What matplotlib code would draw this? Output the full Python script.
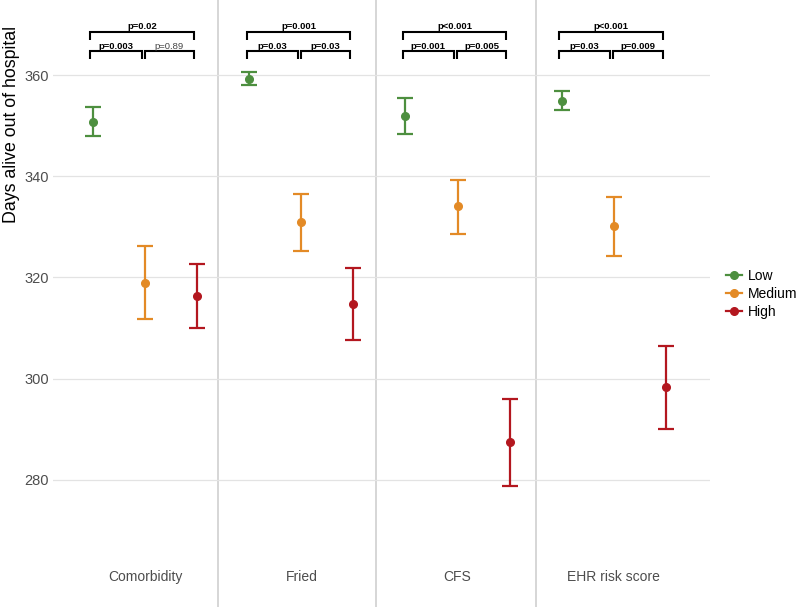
import matplotlib
matplotlib.use("Agg")
import matplotlib.pyplot as plt
from matplotlib.lines import Line2D
import matplotlib.transforms as mtransforms

plt.rcParams['font.family'] = ['Liberation Sans', 'DejaVu Sans']

measures = ['Comorbidity', 'Fried', 'CFS', 'EHR risk score']
levels = ['Low', 'Medium', 'High']
colors = ['#4d8f3f', '#e38a26', '#b3171f']

means = [[350.7, 319.0, 316.3],
         [359.2, 330.9, 314.7],
         [352.0, 334.1, 287.4],
         [354.9, 330.2, 298.3]]
lower = [[347.9, 311.7, 310.0],
         [358.0, 325.2, 307.6],
         [348.4, 328.7, 278.8],
         [353.1, 324.3, 290.0]]
upper = [[353.7, 326.2, 322.7],
         [360.6, 336.6, 321.8],
         [355.5, 339.3, 295.9],
         [356.8, 336.0, 306.4]]

p_overall = ['p=0.02', 'p=0.001', 'p<0.001', 'p<0.001']
p_low_med = ['p=0.003', 'p=0.03', 'p=0.001', 'p=0.03']
p_med_high = ['p=0.89', 'p=0.03', 'p=0.005', 'p=0.009']
p_sig_med_high = [False, True, True, True]

yticks = [280, 300, 320, 340, 360]

fig = plt.figure(figsize=(8, 6.07), dpi=100)
ax = fig.add_axes([53 / 800, 0, (710 - 53) / 800, 1])
ax.set_xlim(-0.77, 11.85)
ax.set_ylim(254.8, 374.9)

for s in ax.spines.values():
    s.set_visible(False)
ax.set_yticks(yticks)
ax.set_xticks([])
ax.tick_params(axis='y', length=0, pad=3, labelsize=10.5, labelcolor='#4d4d4d')
ax.yaxis.grid(True, color='#e3e3e3', lw=0.9)
ax.set_axisbelow(True)

# panel separators
for xs in [2.4, 5.44, 8.5]:
    ax.axvline(xs, color='#cbcbcb', lw=1.1, zorder=0)

trans = mtransforms.blended_transform_factory(ax.transData, ax.transAxes)

for i, m in enumerate(measures):
    x0 = 3 * i
    for j, lev in enumerate(levels):
        x = x0 + j
        mu = means[i][j]
        ax.errorbar([x], [mu], yerr=[[mu - lower[i][j]], [upper[i][j] - mu]],
                    fmt='o', color=colors[j], ms=5.5, elinewidth=1.6,
                    capsize=5.5, capthick=1.6, zorder=3)
    ax.text(x0 + 1, 0.049, m, transform=trans, ha='center', va='center',
            fontsize=10, color='#4d4d4d')

    # brackets
    def bracket(xa, xb, yh, yl):
        ax.plot([xa, xa, xb, xb], [yl, yh, yh, yl], color='black', lw=1.5,
                solid_capstyle='butt', solid_joinstyle='miter', clip_on=False)
    bracket(x0 - 0.05, x0 + 1.94, 368.5, 367.0)
    bracket(x0 - 0.05, x0 + 0.93, 364.8, 363.2)
    bracket(x0 + 0.99, x0 + 1.94, 364.8, 363.2)
    ax.text(x0 + 0.95, 369.7, p_overall[i], ha='center', va='center',
            fontsize=6.8, fontweight='bold', color='black')
    ax.text(x0 + 0.44, 365.7, p_low_med[i], ha='center', va='center',
            fontsize=6.8, fontweight='bold', color='black')
    ax.text(x0 + 1.46, 365.7, p_med_high[i], ha='center', va='center',
            fontsize=6.8, fontweight='bold' if p_sig_med_high[i] else 'normal',
            color='black' if p_sig_med_high[i] else '#444444')

fig.text(12 / 800, 1 - 124 / 607, 'Days alive out of hospital', rotation=90,
         ha='center', va='center', fontsize=12.8, color='black')

handles = [Line2D([0], [0], color=c, marker='o', ms=5.5, lw=1.6) for c in colors]
fig.legend(handles, levels, loc='center left', bbox_to_anchor=(726 / 800, 1 - 294 / 607),
           frameon=False, fontsize=10, handlelength=1.15, handletextpad=0.45,
           labelspacing=0.28, borderpad=0, borderaxespad=0)

fig.savefig('out.png', dpi=100)
